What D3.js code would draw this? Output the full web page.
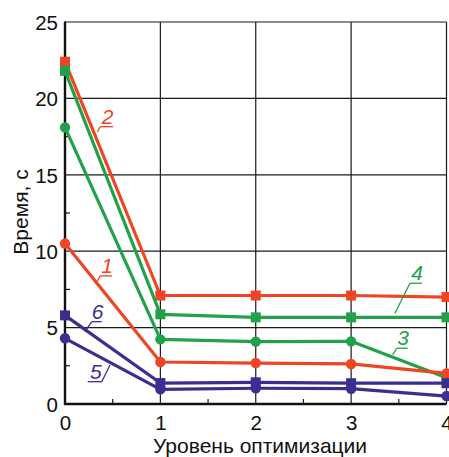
<!DOCTYPE html>
<html>
<head>
<meta charset="utf-8">
<script src="https://cdn.jsdelivr.net/npm/d3@7"></script>
<style>
  html, body { margin: 0; padding: 0; background: #fff; }
  svg { display: block; font-family: "Liberation Sans", Arial, sans-serif; }
</style>
</head>
<body>
<svg id="chart" width="449" height="457"></svg>
<script>
// Optimisation levels on the x axis
const levels = [0, 1, 2, 3, 4];
const xTicks = [0, 1, 2, 3, 4];
const yTicks = [0, 5, 10, 15, 20, 25];

// Run time, s, for each curve
const series1 = [10.5, 2.75, 2.68, 2.62, 2.0];
const series2 = [22.4, 7.1, 7.1, 7.1, 7.0];
const series3 = [18.1, 4.23, 4.08, 4.1, 1.72];
const series4 = [21.8, 5.87, 5.67, 5.67, 5.67];
const series5 = [4.3, 0.96, 1.03, 1.0, 0.52];
const series6 = [5.8, 1.37, 1.42, 1.36, 1.36];

const seriesNames = ["1", "2", "3", "4", "5", "6"];
const seriesValues = [series1, series2, series3, series4, series5, series6];
const seriesMarker = ["circle", "square", "circle", "square", "circle", "square"];

const RED = "#ef4524", GREEN = "#21a24a", BLUE = "#3a2e90";
const seriesColor = [RED, RED, GREEN, GREEN, BLUE, BLUE];

// Curve labels: junction of underline and leader, leader end (data units)
const labelJoin = [[0.367, 8.38], [0.367, 18.15], [3.478, 3.65], [3.617, 7.90], [0.385, 1.46], [0.280, 5.39]];
const labelLeaderEnd = [[0.341, 8.05], [0.341, 17.80], [3.436, 3.21], [3.460, 5.94], [0.472, 2.55], [0.210, 4.73]];
const labelUnderline = [12, 13, 11, 12, -14, 10];

const svg = d3.select("#chart");
const padL = 65, padR = 446.5, padT = 22, padB = 404;

const x = d3.scaleLinear().domain([0, 4]).range([padL, padR]);
const y = d3.scaleLinear().domain([0, 25]).range([padB, padT]);

// Grid
const grid = svg.append("g").attr("stroke", "#1a1a1a").attr("stroke-width", 1.2);
grid.selectAll("line.v").data(xTicks.slice(1)).join("line")
  .attr("x1", d => x(d)).attr("x2", d => x(d)).attr("y1", padT).attr("y2", padB);
grid.selectAll("line.h").data(yTicks.slice(1)).join("line")
  .attr("x1", padL).attr("x2", padR).attr("y1", d => y(d)).attr("y2", d => y(d));

// Minor ticks pointing inward
const minorX = [0.5, 1.5, 2.5, 3.5];
const minorY = [2.5, 7.5, 12.5, 17.5, 22.5];
const minor = svg.append("g").attr("stroke", "#1a1a1a").attr("stroke-width", 1.2);
minor.selectAll("line.mx").data(minorX).join("line")
  .attr("x1", d => x(d)).attr("x2", d => x(d)).attr("y1", padB).attr("y2", padB - 5);
minor.selectAll("line.my").data(minorY).join("line")
  .attr("x1", padL).attr("x2", padL + 5).attr("y1", d => y(d)).attr("y2", d => y(d));

// Axes
const xAxis = d3.axisBottom(x).tickValues(xTicks).tickSize(0).tickPadding(11).tickFormat(d3.format("d"));
const yAxis = d3.axisLeft(y).tickValues(yTicks).tickSize(0).tickPadding(7).tickFormat(d3.format("d"));
const gx = svg.append("g").attr("transform", `translate(0,${padB})`).call(xAxis);
const gy = svg.append("g").attr("transform", `translate(${padL},0)`).call(yAxis);
[gx, gy].forEach(g => {
  g.select(".domain").remove();
  g.selectAll("text").attr("font-size", 20.5).attr("fill", "#111")
    .attr("font-family", "'Liberation Sans', Arial, sans-serif");
});
gy.selectAll("text").attr("dy", "0.36em");

svg.append("line").attr("x1", padL).attr("x2", padL).attr("y1", padT - 0.5).attr("y2", padB + 1)
  .attr("stroke", "#111").attr("stroke-width", 2.4);
svg.append("line").attr("x1", padL - 1).attr("x2", padR).attr("y1", padB).attr("y2", padB)
  .attr("stroke", "#111").attr("stroke-width", 2.4);

// Axis titles
svg.append("text").attr("x", 260).attr("y", 453).attr("text-anchor", "middle")
  .attr("font-size", 21).attr("fill", "#111").text("Уровень оптимизации");
svg.append("text").attr("transform", "translate(28,212) rotate(-90)").attr("text-anchor", "middle")
  .attr("font-size", 21).attr("fill", "#111").text("Время, с");

// Curves
const line = d3.line().x((d, i) => x(levels[i])).y(d => y(d));
const order = [1, 3, 2, 0, 5, 4];
order.forEach(k => {
  const g = svg.append("g");
  g.append("path").datum(seriesValues[k]).attr("d", line)
    .attr("fill", "none").attr("stroke", seriesColor[k]).attr("stroke-width", 3.2)
    .attr("stroke-linejoin", "round");
  if (seriesMarker[k] === "circle") {
    g.selectAll("circle").data(seriesValues[k]).join("circle")
      .attr("cx", (d, i) => x(levels[i])).attr("cy", d => y(d)).attr("r", 5.2)
      .attr("fill", seriesColor[k]);
  } else {
    const s = 10;
    g.selectAll("rect").data(seriesValues[k]).join("rect")
      .attr("x", (d, i) => x(levels[i]) - s / 2).attr("y", d => y(d) - s / 2)
      .attr("width", s).attr("height", s).attr("fill", seriesColor[k]);
  }
});

// Curve labels with underline and leader
seriesNames.forEach((name, k) => {
  const jx = x(labelJoin[k][0]), jy = y(labelJoin[k][1]);
  const ex = x(labelLeaderEnd[k][0]), ey = y(labelLeaderEnd[k][1]);
  const u = labelUnderline[k];
  const g = svg.append("g").attr("stroke", seriesColor[k]).attr("stroke-width", 1.3).attr("fill", "none");
  g.append("line").attr("x1", jx).attr("y1", jy).attr("x2", jx + u).attr("y2", jy);
  g.append("line").attr("x1", jx).attr("y1", jy).attr("x2", ex).attr("y2", ey);
  svg.append("text").attr("x", jx + u / 2 + 1).attr("y", jy - 3).attr("text-anchor", "middle")
    .attr("font-size", 21).attr("font-style", "italic").attr("fill", seriesColor[k]).text(name);
});
</script>
</body>
</html>
